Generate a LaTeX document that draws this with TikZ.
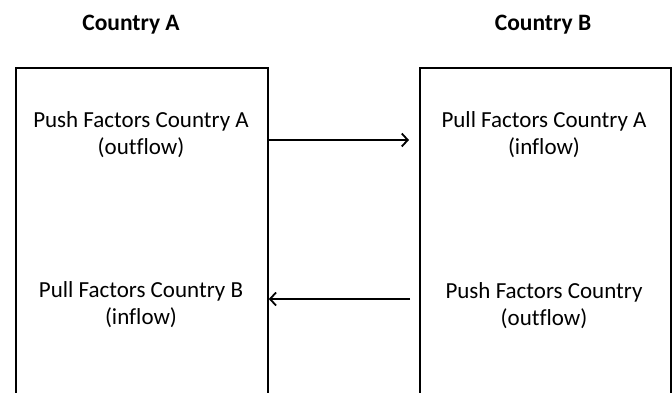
\documentclass[tikz,border=0pt]{standalone}
\usepackage{fontspec}
\setmainfont[Ligatures=NoCommon]{Carlito}
\usetikzlibrary{arrows.meta, positioning}

\begin{document}
\begin{tikzpicture}[x=1pt, y=1pt]
        % Define styles
        \tikzset{
            country/.style={draw, line width=1.8pt, minimum width=252pt, minimum height=340pt, anchor=north west},
            factor/.style={align=center, anchor=base, font=\fontsize{23}{27.5}\selectfont},
            title/.style={anchor=base, font=\fontsize{23.5}{28}\selectfont\bfseries},
            flow/.style={-{Straight Barb[length=6pt, width=13pt]}, line width=1.8pt}
        }
        % Page frame, the boxes run off the bottom edge
        \useasboundingbox (0,0) rectangle (672,393);
        \clip (0,0) rectangle (672,393);
        % Country titles
        \node[title] (titleA) at (131,362) {Country A};
        \node[title] (titleB) at (543,362) {Country B};
        % The two country boxes
        \node[country] (boxA) at (15,326) {};
        \node[country, minimum width=251pt] (boxB) at (419,326) {};
        % Factors in Country A (base is the second line)
        \node[factor] (pushA) at (141,238) {Push Factors Country A\\(outflow)};
        \node[factor] (pullB) at (141,68) {Pull Factors Country B\\(inflow)};
        % Factors in Country B
        \node[factor] (pullA) at (544,238) {Pull Factors Country A\\(inflow)};
        \node[factor] (pushB) at (544,67) {Push Factors Country\\(outflow)};
        % Arrows between the countries
        \coordinate (tipB) at (409,253);
        \coordinate (tailB) at (410,94);
        \draw[flow] (boxA.east |- tipB) -- (tipB); % outflow from A
        \draw[flow] (tailB) -- (boxA.east |- tailB); % inflow to A
    \end{tikzpicture}
\end{document}
